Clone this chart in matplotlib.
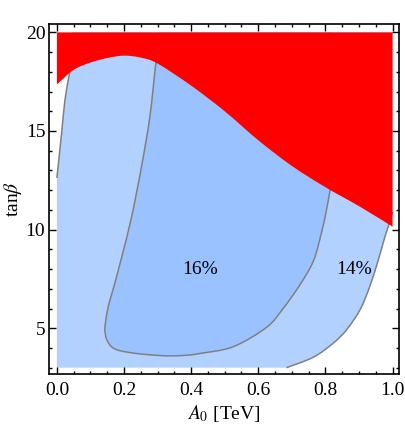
import matplotlib
matplotlib.use('Agg')
import matplotlib.pyplot as plt
import numpy as np
from matplotlib.path import Path
from matplotlib.patches import PathPatch
from matplotlib.ticker import MultipleLocator

plt.rcParams['font.family'] = ['Liberation Serif', 'DejaVu Serif']
plt.rcParams['mathtext.fontset'] = 'stix'

# excluded (red) region: lower boundary
red_x = [0.0, 0.05, 0.1, 0.15, 0.2, 0.25, 0.3, 0.4, 0.5, 0.6, 0.7, 0.8, 0.9, 1.0]
red_y = [17.36, 18.1, 18.47, 18.7, 18.82, 18.72, 18.42, 17.3, 16.0, 14.53, 13.23, 12.15, 11.19, 10.15]

# 14% contour, left piece (runs up into the red)
c14_left_x = [0.0, 0.014, 0.024, 0.036, 0.045]
c14_left_y = [12.62, 14.87, 16.56, 17.78, 18.6]

# 14% contour, right piece
c14_right_x = [0.684, 0.764, 0.823, 0.863, 0.903, 0.932, 0.957, 0.977, 0.99, 1.0]
c14_right_y = [3.0, 3.53, 4.24, 4.92, 5.93, 7.11, 8.43, 9.62, 10.3, 10.9]

# 16% contour (closed through the red region)
c16_x = [0.302, 0.295, 0.277, 0.252, 0.2225, 0.193, 0.168, 0.153, 0.145, 0.143, 0.148, 0.163, 0.188,
         0.247, 0.327, 0.386, 0.426, 0.525, 0.625, 0.674, 0.724, 0.764, 0.788, 0.803, 0.813, 0.822]
c16_y = [19.0, 18.46, 15.72, 13.18, 10.64, 8.6, 7.0, 6.1, 5.3, 4.9, 4.45, 4.06, 3.86,
         3.7, 3.6, 3.63, 3.72, 4.06, 5.05, 6.0, 7.2, 8.4, 9.82, 10.98, 11.9, 12.6]

x_lo, x_hi, y_lo, y_hi = 0.0, 1.0, 3.0, 20.0

labels = [(0.426, 7.96, '16%'), (0.885, 7.96, '14%')]

light_blue = '#b3d1ff'
dark_blue = '#99c2ff'
line_gray = '#808080'


def add_curve(verts, codes, xs, ys, first=False):
    # smooth curve through the points (Catmull-Rom as cubic Bezier segments)
    p = np.column_stack([xs, ys])
    verts.append(p[0])
    codes.append(Path.MOVETO if first else Path.LINETO)
    n = len(p)
    for i in range(n - 1):
        p0 = p[i - 1] if i > 0 else p[i]
        p3 = p[i + 2] if i + 2 < n else p[i + 1]
        verts += [p[i] + (p[i + 1] - p0) / 6, p[i + 1] - (p3 - p[i]) / 6, p[i + 1]]
        codes += [Path.CURVE4] * 3


def add_line(verts, codes, pts):
    for pt in pts:
        verts.append(pt)
        codes.append(Path.LINETO)


fig = plt.figure(figsize=(4.05, 4.26), dpi=100)
ax = fig.add_axes([0.1222, 0.1221, 0.8628, 0.8204])

# light blue band between the two 14% pieces
v, c = [(x_lo, y_lo)], [Path.MOVETO]
add_curve(v, c, c14_left_x, c14_left_y)
add_line(v, c, [(c14_left_x[-1], y_hi), (x_hi, y_hi)])
add_curve(v, c, c14_right_x[::-1], c14_right_y[::-1])
add_line(v, c, [(x_lo, y_lo)])
ax.add_patch(PathPatch(Path(v, c), facecolor=light_blue, lw=0, zorder=1))

# 16% region
v, c = [], []
add_curve(v, c, c16_x, c16_y, first=True)
add_line(v, c, [(c16_x[-1], y_hi), (c16_x[0], y_hi), (c16_x[0], c16_y[0])])
ax.add_patch(PathPatch(Path(v, c), facecolor=dark_blue, lw=0, zorder=2))

# contour lines
for cx, cy in [(c14_left_x, c14_left_y), (c14_right_x, c14_right_y), (c16_x, c16_y)]:
    v, c = [], []
    add_curve(v, c, cx, cy, first=True)
    ax.add_patch(PathPatch(Path(v, c), facecolor='none', edgecolor=line_gray, lw=1.1, zorder=3))

# excluded region on top
v, c = [], []
add_curve(v, c, red_x, red_y, first=True)
add_line(v, c, [(x_hi, y_hi), (x_lo, y_hi), (red_x[0], red_y[0])])
ax.add_patch(PathPatch(Path(v, c), facecolor='#ff0000', lw=0, zorder=4))

for tx, ty, s in labels:
    ax.text(tx, ty, s, ha='center', va='center', fontsize=14, zorder=5)

ax.set_xlim(-0.022, 1.019)
ax.set_ylim(2.68, 20.4)
ax.set_xlabel('$A_0$ [TeV]', fontsize=14, labelpad=3)
ax.set_ylabel(r'tan$\beta$', fontsize=14, labelpad=1)

ax.xaxis.set_major_locator(MultipleLocator(0.2))
ax.xaxis.set_minor_locator(MultipleLocator(0.05))
ax.yaxis.set_major_locator(MultipleLocator(5))
ax.yaxis.set_minor_locator(MultipleLocator(1))
ax.xaxis.set_major_formatter(plt.FuncFormatter(lambda val, pos: f'{val:.1f}'))
ax.tick_params(which='both', direction='in', top=True, right=True, labelsize=14, width=1)
ax.tick_params(which='major', length=5)
ax.tick_params(which='minor', length=2.5)
ax.tick_params(axis='x', pad=6)
ax.tick_params(axis='y', pad=3)
for sp in ax.spines.values():
    sp.set_linewidth(1.2)

fig.savefig('out.png', dpi=100)
